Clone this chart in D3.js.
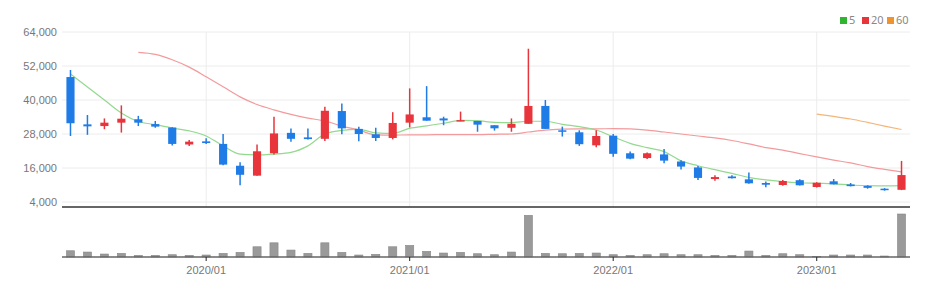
<!DOCTYPE html>
<html>
<head>
<meta charset="utf-8">
<script src="https://cdn.jsdelivr.net/npm/d3@7"></script>
<style>
  body { margin: 0; background: #fff; }
  svg { font-family: "Noto Sans", sans-serif; }
</style>
</head>
<body>
<div id="chart"></div>
<script>
// monthly candles 2019/05 .. 2023/06
var months = d3.timeMonths(new Date(2019, 4, 1), new Date(2023, 6, 1));
var fmt = d3.timeFormat("%Y/%m");
var tickLabels = ["2020/01", "2021/01", "2022/01", "2023/01"];
var yTicks = [4000, 16000, 28000, 40000, 52000, 64000];

var open  = [48100,31400,30800,32000,33200,31500,30300,24300,25400,24500,16800,13300,21200,28400,26800,26300,36100,29800,27900,26600,
             32000,33900,33500,32500,32600,31100,30200,31600,37900,29300,28600,24000,27400,21200,19500,20800,18300,16200,12100,13000,
             12000,10700,10000,11700,9300,11300,10200,9650,8700,8300];
var high  = [50600,34700,33500,38100,34400,32600,30400,25900,26500,28000,18000,24300,34100,29900,29900,37600,38800,30600,30200,35700,
             44100,44900,34100,35900,32600,31100,33500,58100,40000,30600,29300,29300,28000,21800,21500,22700,18700,16700,13400,13400,
             14400,11200,11800,12000,11000,12100,10700,9900,8900,18500];
var low   = [27300,27700,29700,28500,30800,30200,23900,23800,24500,17000,9900,13300,20800,25300,26100,25500,27900,25400,25500,26100,
             30300,32700,31100,32500,28800,29200,28800,31600,29800,27100,23800,23300,20000,19100,19200,17700,15500,11800,11500,12300,
             10400,9200,9700,9800,9100,10200,9500,8700,8000,8200];
var close = [31800,30700,32000,33400,32000,30600,24500,25300,24800,17200,13600,21900,28200,26300,26200,36200,30000,28000,26600,31900,
             34900,32700,32800,32900,31300,30000,31600,37900,29800,28900,24400,27300,21000,19300,21200,18600,16500,12500,12800,12400,
             10600,10100,11400,9900,10800,10250,9600,9000,8300,13500];
var volume = [630,500,300,370,170,170,230,170,200,370,470,1030,1430,700,370,1430,470,200,270,1030,
              1170,570,400,470,330,230,500,4200,370,330,370,400,230,170,230,330,230,230,170,170,
              600,170,330,230,70,200,200,200,100,4330];

var ma5  = [49200,44600,40000,35400,32400,31300,30100,29100,27300,23800,20900,20600,20900,21500,23800,28000,29300,29600,28400,28200,
            30000,30900,31800,32800,32700,32100,32000,32500,32500,31400,30600,29400,27000,24700,23200,21800,18500,16800,15400,14100,
            12700,11800,11200,10800,10600,10400,10000,9800,9700,9800];
var ma20 = [null,null,null,null,56800,56100,54200,51600,48200,44700,41100,38400,36500,34900,33600,32600,30800,29400,27700,27600,
            27700,27700,27800,27800,27800,27900,28000,28700,29400,29700,29800,29800,29900,29800,29400,28700,28000,27300,26600,25700,
            24500,23200,22300,21100,19900,18800,17800,16500,15500,14600];
var ma60 = [null,null,null,null,null,null,null,null,null,null,null,null,null,null,null,null,null,null,null,null,
            null,null,null,null,null,null,null,null,null,null,null,null,null,null,null,null,null,null,null,null,
            null,null,null,null,35000,34200,33300,32100,30800,29600];

var W = 935, H = 289;
var left = 62, right = 910;
var priceTop = 32, priceBottom = 202, divider = 207;
var volTop = 214, volBase = 257;

var red = "#e8343b", blue = "#1f7be6";

var svg = d3.select("#chart").append("svg")
    .attr("width", W).attr("height", H);

var x = d3.scaleBand()
    .domain(months.map(fmt))
    .range([left, right])
    .paddingInner(0.52)
    .paddingOuter(0.26);

var cx = function(i) { return x(fmt(months[i])) + x.bandwidth() / 2; };

var y = d3.scaleLinear().domain([4000, 64000]).range([priceBottom, priceTop]);
var yv = d3.scaleLinear().domain([0, d3.max(volume)]).range([volBase, volTop]);

//grid
svg.append("g").selectAll("line").data(yTicks).enter().append("line")
    .attr("x1", left).attr("x2", right)
    .attr("y1", function(d) { return y(d); }).attr("y2", function(d) { return y(d); })
    .attr("stroke", "#ececec").attr("stroke-width", 1);

var tickX = function(t) { return x(t) + x.bandwidth() / 2; };

svg.append("g").selectAll("line").data(tickLabels).enter().append("line")
    .attr("x1", tickX).attr("x2", tickX)
    .attr("y1", priceTop).attr("y2", divider)
    .attr("stroke", "#ececec").attr("stroke-width", 1);

//y axis labels
var yAxis = d3.axisLeft(y).tickValues(yTicks).tickSize(0).tickPadding(5).tickFormat(d3.format(","));
svg.append("g").attr("transform", "translate(" + left + ",0)").call(yAxis)
    .call(function(g) { g.select(".domain").remove(); })
    .selectAll("text").attr("fill", "#777").style("font-size", "11px");

//moving averages
var line = d3.line()
    .defined(function(d) { return d != null; })
    .x(function(d, i) { return cx(i); })
    .y(function(d) { return y(d); })
    .curve(d3.curveMonotoneX);

svg.append("path").datum(ma20).attr("d", line)
    .attr("fill", "none").attr("stroke", "#f39a9c").attr("stroke-width", 1.2);
svg.append("path").datum(ma60).attr("d", line)
    .attr("fill", "none").attr("stroke", "#f5b577").attr("stroke-width", 1.2);
svg.append("path").datum(ma5).attr("d", line)
    .attr("fill", "none").attr("stroke", "#93d98f").attr("stroke-width", 1.2);

//candles
var idx = d3.range(months.length);
var col = function(i) { return close[i] >= open[i] ? red : blue; };

svg.append("g").selectAll("line").data(idx).enter().append("line")
    .attr("x1", cx).attr("x2", cx)
    .attr("y1", function(i) { return y(high[i]); })
    .attr("y2", function(i) { return y(low[i]); })
    .attr("stroke", col).attr("stroke-width", 1.5);

svg.append("g").selectAll("rect").data(idx).enter().append("rect")
    .attr("x", function(i) { return x(fmt(months[i])); })
    .attr("width", x.bandwidth())
    .attr("y", function(i) { return y(Math.max(open[i], close[i])); })
    .attr("height", function(i) { return Math.max(1.5, Math.abs(y(open[i]) - y(close[i]))); })
    .attr("fill", col);

//divider
svg.append("line").attr("x1", left).attr("x2", right)
    .attr("y1", divider).attr("y2", divider)
    .attr("stroke", "#333").attr("stroke-width", 1.6);

//volume
svg.append("g").selectAll("rect").data(idx).enter().append("rect")
    .attr("x", function(i) { return x(fmt(months[i])); })
    .attr("width", x.bandwidth())
    .attr("y", function(i) { return yv(volume[i]); })
    .attr("height", function(i) { return volBase - yv(volume[i]); })
    .attr("fill", "#9a9a9a").attr("stroke", "#888").attr("stroke-width", 0.6);

//x axis
var xAxis = d3.axisBottom(x).tickValues(tickLabels).tickSize(4).tickPadding(5);
var gx = svg.append("g").attr("transform", "translate(0," + volBase + ")").call(xAxis);
gx.select(".domain").attr("d", "M" + left + ",0H" + right).attr("stroke", "#666").attr("stroke-width", 1.6);
gx.selectAll(".tick line").attr("stroke", "#222");
gx.selectAll("text").attr("fill", "#777").style("font-size", "11px");

//legend
var legend = [{ k: "5", c: "#2fb52f" }, { k: "20", c: "#e8343b" }, { k: "60", c: "#f0922f" }];
var lx = [840, 862, 887];
var lg = svg.append("g").selectAll("g").data(legend).enter().append("g")
    .attr("transform", function(d, i) { return "translate(" + lx[i] + ",17)"; });
lg.append("rect").attr("width", 7).attr("height", 7).attr("fill", function(d) { return d.c; });
lg.append("text").attr("x", 9).attr("y", 7).text(function(d) { return d.k; })
    .attr("fill", "#888").style("font-size", "11px");
</script>
</body>
</html>
